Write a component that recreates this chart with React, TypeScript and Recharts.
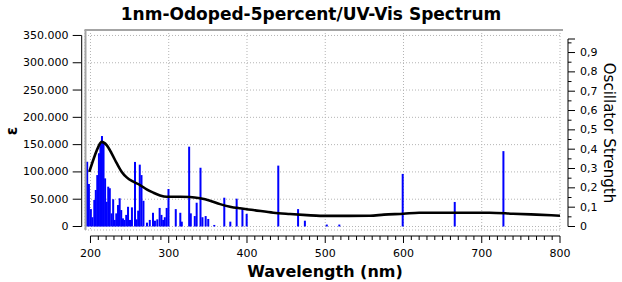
import React from 'react';
import { ComposedChart, Bar, Line, XAxis, YAxis, CartesianGrid } from 'recharts';

// ---- data ----
const barWavelengths = [
  195.8, 198, 200.5, 202.5, 204.9, 206.8, 208.7, 210.8, 212.7, 214.7, 216.7, 218.7, 220.7, 222.7,
  224.7, 227, 229, 231, 233, 235.2, 237.3, 239.3, 241.5, 243.5, 245.7, 248, 250.5, 253, 256.9,
  259, 261, 263, 265.2, 267.7, 272.2, 275.8, 279.9, 282.4, 285.4, 288.4, 290.7, 292.9, 295,
  297.4, 299.7, 309, 314.8, 316.7, 326.1, 328.2, 333.3, 335.7, 340.6, 343.1, 347.2, 350.5,
  358.2, 371, 378.7, 386.8, 394.2, 399.6, 440, 465.3, 474, 502, 518, 599, 665.5, 727.7,
];
const oscillatorStrengths = [
  0.335, 0.22, 0.09, 0.048, 0.137, 0.189, 0.266, 0.379, 0.427, 0.468, 0.43, 0.249, 0.128, 0.206,
  0.198, 0.068, 0.141, 0.034, 0.068, 0.111, 0.146, 0.085, 0.042, 0.034, 0.06, 0.102, 0.034, 0.099, 0.334,
  0.037, 0.082, 0.32, 0.266, 0.133, 0.02, 0.034, 0.071, 0.03, 0.037, 0.096, 0.06, 0.034, 0.048,
  0.096, 0.194, 0.09, 0.071, 0.025, 0.413, 0.068, 0.054, 0.123, 0.304, 0.048, 0.054, 0.039,
  0.008, 0.149, 0.025, 0.144, 0.09, 0.065, 0.315, 0.09, 0.03, 0.01, 0.01, 0.272, 0.127, 0.39,
];
const curveWavelengths = [
  198.5, 205.8, 210, 214.3, 220.7, 227, 233.5, 240, 246.3, 254.7, 263.3, 271.8, 280.3, 288.9,
  297.4, 315, 327, 340, 352.8, 365.6, 378.3, 391.1, 408.1, 433.7, 455, 476.4, 493.4, 530, 557,
  575, 600, 620, 710, 740, 770, 800,
];
const epsilonValues = [
  100000, 131000, 146000, 155000, 149000, 134000, 116000, 100000, 90000, 82000, 76000, 68000, 62000, 57000,
  54600, 54500, 54000, 51600, 47300, 41000, 36300, 33300, 30200, 25300, 22900, 20800, 19500, 19500, 19800,
  21700, 23500, 25300, 25300, 23500, 21700, 19800,
];
const xTicks = [200, 300, 400, 500, 600, 700, 800];
const leftTicks = [0, 50000, 100000, 150000, 200000, 250000, 300000, 350000];
const leftTickLabels = ['0', '50.000', '100.000', '150.000', '200.000', '250.000', '300.000', '350.000'];
const rightTicks = [0, 0.1, 0.2, 0.3, 0.4, 0.5, 0.6, 0.7, 0.8, 0.9];
const rightTickLabels = ['0', '0,1', '0,2', '0,3', '0,4', '0,5', '0,6', '0,7', '0,8', '0,9'];
const rightAxisTop = 0.97;

const titleText = '1nm-Odoped-5percent/UV-Vis Spectrum';
const xTitle = 'Wavelength (nm)';
const leftTitle = 'ε';
const rightTitle = 'Oscillator Strength';

// ---- layout ----
const W = 622;
const H = 282;
const LEFT_W = 85;
const RIGHT_W = 62;
const TOP = 30;
const BOTTOM_H = 52;
const X_DOMAIN: [number, number] = [193, 800];
const LEFT_DOMAIN: [number, number] = [-6400, 360000];
const RIGHT_DOMAIN: [number, number] = [-0.0181, 1.0166];
const plotW = W - LEFT_W - RIGHT_W;
const plotH = H - TOP - BOTTOM_H;
const pxPerNm = plotW / (X_DOMAIN[1] - X_DOMAIN[0]);
const pxPerEps = plotH / (LEFT_DOMAIN[1] - LEFT_DOMAIN[0]);
const pxPerF = plotH / (RIGHT_DOMAIN[1] - RIGHT_DOMAIN[0]);

const FONT = '"DejaVu Sans", Verdana, sans-serif';
const GRAY = '#a4a4a4';
const BLUE = '#0000ff';

type Row = { nm: number; f?: number; eps?: number };
const rows: Row[] = [
  ...barWavelengths.map((nm, i) => ({ nm, f: oscillatorStrengths[i] })),
  ...curveWavelengths.map((nm, i) => ({ nm, eps: epsilonValues[i] })),
].sort((a, b) => a.nm - b.nm);

const XTick = (props: any) => {
  const { x, y, payload } = props;
  const v = payload.value as number;
  const ay = y + 6;
  const step = 100 * pxPerNm;
  const last = v === xTicks[xTicks.length - 1];
  const minors: number[] = [];
  if (!last) for (let k = 1; k < 10; k++) minors.push(x + (k * step) / 10);
  return (
    <g>
      {!last && <line x1={x} y1={ay} x2={x + step} y2={ay} stroke="#000" strokeWidth={1} />}
      <line x1={x} y1={ay} x2={x} y2={ay + 7} stroke="#000" strokeWidth={1} />
      {minors.map((mx, i) => (
        <line key={i} x1={mx} y1={ay} x2={mx} y2={ay + 4} stroke="#000" strokeWidth={1} />
      ))}
      <text x={x} y={ay + 17} textAnchor="middle" dominantBaseline="central" fontSize={11} fontFamily={FONT} fill="#000">
        {String(v)}
      </text>
    </g>
  );
};

const LeftTick = (props: any) => {
  const { x, y, payload } = props;
  const v = payload.value as number;
  const ax = x - 3.3;
  const step = 50000 * pxPerEps;
  const last = v === leftTicks[leftTicks.length - 1];
  const frameTop = y - (LEFT_DOMAIN[1] - v) * pxPerEps;
  const frameBottom = y + (v - LEFT_DOMAIN[0]) * pxPerEps;
  return (
    <g>
      {v === 0 && (
        <g>
          <line x1={x + 0.5} y1={frameTop} x2={x + 0.5} y2={frameBottom} stroke={GRAY} strokeWidth={2} />
          <line x1={x - 0.5} y1={frameTop} x2={x + plotW + 3} y2={frameTop} stroke={GRAY} strokeWidth={2} />
        </g>
      )}
      {!last && <line x1={ax} y1={y} x2={ax} y2={y - step} stroke="#000" strokeWidth={1} />}
      <line x1={ax - 9} y1={y} x2={ax} y2={y} stroke="#000" strokeWidth={1} />
      <text x={x - 16.5} y={y} textAnchor="end" dominantBaseline="central" fontSize={11} fontFamily={FONT} fill="#000">
        {leftTickLabels[leftTicks.indexOf(v)]}
      </text>
    </g>
  );
};

const RightTick = (props: any) => {
  const { x, y, payload } = props;
  const v = payload.value as number;
  const ax = x + 8;
  const step = 0.1 * pxPerF;
  const last = v === rightTicks[rightTicks.length - 1];
  const top = last ? (rightAxisTop - v) * pxPerF : step;
  return (
    <g>
      <line x1={ax} y1={y} x2={ax} y2={y - top} stroke="#000" strokeWidth={1} />
      <line x1={ax} y1={y} x2={ax + 7} y2={y} stroke="#000" strokeWidth={1} />
      <line x1={ax} y1={y - step / 2} x2={ax + 3.5} y2={y - step / 2} stroke="#000" strokeWidth={1} />
      {last && <line x1={ax} y1={y - top} x2={ax + 7} y2={y - top} stroke="#000" strokeWidth={1} />}
      <text x={ax + 12} y={y} textAnchor="start" dominantBaseline="central" fontSize={11} fontFamily={FONT} fill="#000">
        {rightTickLabels[rightTicks.indexOf(v)]}
      </text>
    </g>
  );
};

const StickShape = (props: any) => {
  const { x, y, width, height } = props;
  if (height == null || !isFinite(height) || !isFinite(x)) return null;
  const cx = x + (width || 0) / 2;
  const top = height >= 0 ? y : y + height;
  const h = Math.abs(height);
  return <rect x={cx - 1} y={top} width={2} height={h} fill={BLUE} />;
};

export default function App() {
  return (
    <div style={{ position: 'absolute', left: 0, top: 0, width: W, height: H, background: '#fff', fontFamily: FONT }}>
      <div
        style={{
          position: 'absolute', left: 0, top: 3, width: W, textAlign: 'center',
          fontSize: 17, fontWeight: 'bold', lineHeight: '22px', color: '#000',
        }}
      >
        {titleText}
      </div>
      <ComposedChart
        width={W}
        height={H}
        data={rows}
        margin={{ top: TOP, right: 0, bottom: 0, left: 0 }}
      >
        <CartesianGrid
          xAxisId="x"
          yAxisId="left"
          stroke="#b4b4b4"
          strokeDasharray="1 2"
        />
        <XAxis
          xAxisId="x"
          type="number"
          dataKey="nm"
          domain={X_DOMAIN}
          allowDataOverflow
          ticks={xTicks}
          height={BOTTOM_H}
          tickSize={0}
          tickMargin={0}
          tickLine={false}
          axisLine={false}
          tick={<XTick />}
          interval={0}
        />
        <YAxis
          yAxisId="left"
          orientation="left"
          type="number"
          domain={LEFT_DOMAIN}
          allowDataOverflow
          ticks={leftTicks}
          width={LEFT_W}
          tickSize={0}
          tickMargin={0}
          tickLine={false}
          axisLine={false}
          tick={<LeftTick />}
          interval={0}
        />
        <YAxis
          yAxisId="right"
          orientation="right"
          type="number"
          domain={RIGHT_DOMAIN}
          allowDataOverflow
          ticks={rightTicks}
          width={RIGHT_W}
          tickSize={0}
          tickMargin={0}
          tickLine={false}
          axisLine={false}
          tick={<RightTick />}
          interval={0}
        />
        <Bar
          xAxisId="x"
          yAxisId="right"
          dataKey="f"
          fill={BLUE}
          barSize={2}
          shape={<StickShape />}
          isAnimationActive={false}
        />
        <Line
          xAxisId="x"
          yAxisId="left"
          dataKey="eps"
          type="monotone"
          stroke="#000"
          strokeWidth={2.6}
          dot={false}
          activeDot={false}
          connectNulls
          isAnimationActive={false}
        />
      </ComposedChart>
      <div
        style={{
          position: 'absolute', left: 90, width: 470, top: 262, textAlign: 'center',
          fontSize: 16, fontWeight: 'bold', lineHeight: '20px', color: '#000',
        }}
      >
        {xTitle}
      </div>
      <div style={{ position: 'absolute', left: 12, top: 131, width: 0, height: 0 }}>
        <div
          style={{
            position: 'absolute', left: 0, top: 0, transform: 'translate(-50%, -50%) rotate(-90deg)',
            fontSize: 15, fontWeight: 'bold', lineHeight: '18px', whiteSpace: 'nowrap', color: '#000',
          }}
        >
          {leftTitle}
        </div>
      </div>
      <div style={{ position: 'absolute', left: 609, top: 133, width: 0, height: 0 }}>
        <div
          style={{
            position: 'absolute', left: 0, top: 0, transform: 'translate(-50%, -50%) rotate(90deg)',
            fontSize: 15, lineHeight: '18px', whiteSpace: 'nowrap', color: '#000',
          }}
        >
          {rightTitle}
        </div>
      </div>
    </div>
  );
}
